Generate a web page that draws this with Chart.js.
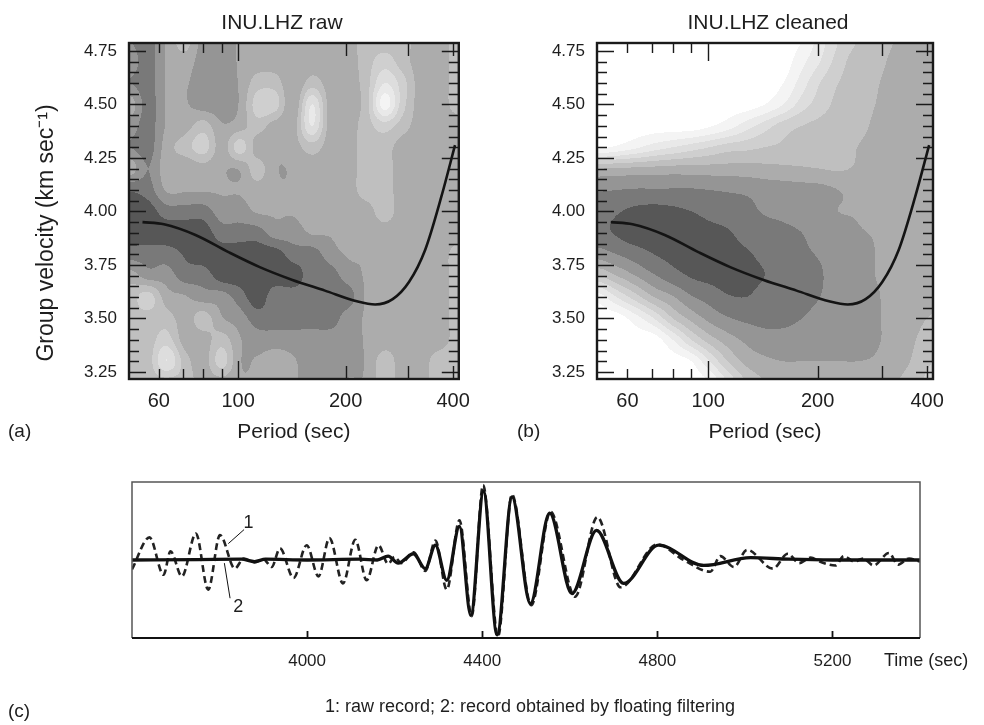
<!DOCTYPE html>
<html>
<head>
<meta charset="utf-8">
<script src="https://cdn.jsdelivr.net/npm/chart.js@4.4.1/dist/chart.umd.min.js"></script>
<style>
  body { margin: 0; background: #fff; width: 984px; height: 725px; overflow: hidden; position: relative; }
  .panel { position: absolute; }
</style>
</head>
<body>
<div class="panel" style="left:0;top:0;width:480px;height:450px"><canvas id="chartRaw"></canvas></div>
<div class="panel" style="left:480px;top:0;width:504px;height:450px"><canvas id="chartClean"></canvas></div>
<div class="panel" style="left:0;top:450px;width:984px;height:275px"><canvas id="chartWave"></canvas></div>
<script>
// ---- axis ticks ----
const periodLabels = [60, 100, 200, 400];
const velocityLabels = [3.25, 3.5, 3.75, 4.0, 4.25, 4.5, 4.75];
const timeLabels = [4000, 4400, 4800, 5200];

// ---- dispersion curve (same in both panels) ----
const curvePeriod = [54, 62, 76, 94, 115, 142, 175, 215, 242, 271, 301, 334, 371, 405];
const curveVelocity = [3.95, 3.94, 3.89, 3.81, 3.74, 3.68, 3.63, 3.58, 3.565, 3.59, 3.67, 3.82, 4.07, 4.31];

// ---- contour grid (level 0 = darkest, 9 = white) ----
const gridPeriods = [50, 56, 63, 71, 80, 90, 101, 113, 127, 143, 161, 181, 203, 228, 257, 288, 324, 365, 416];
const gridVelocities = [4.8, 4.7, 4.6, 4.5, 4.4, 4.3, 4.2, 4.1, 4.0, 3.9, 3.8, 3.7, 3.6, 3.5, 3.4, 3.3, 3.2];

const rawLevels = [
  [1.5, 1, 2.6, 4, 2, 2, 2.6, 3, 3, 2.6, 3, 3, 3, 4, 4, 4, 3, 3, 4],
  [2, 1, 2.6, 3, 2, 2, 2.6, 3, 3, 2.6, 3, 3, 3, 4, 5, 4, 3, 3, 4],
  [1.5, 1, 2.6, 2.6, 2, 2, 2.6, 4, 4, 2.6, 4, 3, 3, 4, 6.5, 5, 3, 3, 4],
  [3, 1, 2.6, 2.6, 2, 2, 2.6, 5, 5, 2.6, 6.5, 3, 3, 4, 8, 5, 3, 3, 4],
  [2, 1, 2.6, 3, 4, 2.6, 3, 4, 3, 3, 6.5, 3, 3, 4, 5, 4, 3, 3, 3],
  [1.5, 1, 3, 4, 5, 3, 5, 3, 2.6, 3, 4, 3, 3, 4, 4, 3, 3, 3, 3],
  [3, 1.5, 3, 2.6, 3, 2.6, 2.6, 4, 2.6, 2.6, 3, 3, 3, 4, 4, 3, 3, 3, 3],
  [0.6, 1, 2.6, 2.6, 2.6, 2.6, 2.6, 3, 2.6, 2.6, 3, 3, 3, 4, 4, 3, 3, 3, 3],
  [0, 0, 1, 1, 1, 2, 2, 2.6, 2.6, 2.6, 3, 3, 3, 3, 4, 3, 3, 3, 3],
  [0, 0, 0, 0, 0, 1, 1, 1, 2, 2, 2.6, 2.6, 3, 3, 3, 3, 3, 3, 3],
  [1, 1, 1, 0.4, 0, 0, 0, 0, 0, 1, 1, 2, 2.6, 2.6, 3, 3, 3, 3, 4],
  [3, 2, 2, 1, 1, 0, 0, 0, 0, 0, 1, 1, 2, 2.6, 3, 3, 3, 3, 4],
  [4, 5, 3, 2.6, 2, 2, 1, 0, 1, 1, 1, 1, 1, 2.6, 3, 3, 3, 3, 4],
  [4, 4, 4, 3, 4, 2.6, 2, 1, 1, 1, 1, 1, 2, 2.6, 3, 3, 3, 3, 4],
  [4, 4, 5, 3, 3, 4, 2.6, 2, 2, 2, 2, 2, 2, 2.6, 3, 3, 3, 3, 4],
  [4, 4, 6.5, 4, 3, 5, 2.6, 2.6, 3, 2.6, 2, 2, 2, 2.6, 4, 3, 3, 4, 4],
  [4, 4, 4, 4, 3, 3, 2.6, 2.6, 2.6, 2.6, 2, 2, 2.6, 2.6, 4, 3, 3, 4, 4]
];

const cleanLevels = [
  [9, 9, 9, 9, 9, 9, 9, 9, 9, 9, 9, 8.5, 7, 5.5, 4.5, 4, 3.5, 3, 3],
  [9, 9, 9, 9, 9, 9, 9, 9, 9, 9, 9, 7.8, 6.5, 5, 4, 3.8, 3.3, 3, 3],
  [9, 9, 9, 9, 9, 9, 9, 9, 9, 9, 8.5, 7, 5.5, 4.5, 4, 3.6, 3.2, 3, 3],
  [9, 9, 9, 9, 9, 9, 9, 9, 9, 8.5, 7.5, 6, 5, 4.2, 3.8, 3.5, 3.2, 3, 3],
  [9, 9, 9, 9, 9, 9, 8.6, 8, 7, 6, 5, 4.5, 4.2, 4, 3.7, 3.4, 3.2, 3, 3],
  [8.7, 8.3, 7.7, 7, 6.5, 6, 5.5, 5, 4.8, 4.5, 4.3, 4.1, 4, 3.8, 3.5, 3.3, 3.1, 3, 3],
  [3.5, 3.4, 3.3, 3.2, 3.1, 3.1, 3.1, 3.1, 3.1, 3.2, 3.3, 3.4, 3.5, 3.6, 3.4, 3.2, 3.1, 3, 3],
  [1.6, 1.5, 1.4, 1.4, 1.4, 1.4, 1.5, 1.6, 1.7, 1.9, 2, 2.1, 2.2, 2.5, 2.8, 3, 3, 3, 3],
  [1, 0.6, 0.3, 0.2, 0.3, 0.5, 0.8, 1, 1.2, 1.6, 1.8, 2.1, 2.3, 2.5, 2.6, 3, 3, 3, 3],
  [0.8, 0.4, 0, 0, 0, 0, 0.2, 0.4, 0.8, 1, 1.2, 1.5, 2, 2.2, 2.4, 2.6, 3, 3, 3],
  [2, 1.5, 1, 0.5, 0.2, 0, 0, 0.2, 0.4, 0.7, 1, 1.3, 1.6, 2, 2.2, 2.5, 3, 3, 3],
  [4.5, 3.5, 2.5, 1.6, 0.9, 0.4, 0.2, 0.1, 0.3, 0.5, 0.9, 1.1, 1.4, 2, 2.2, 2.5, 2.8, 3, 3],
  [8, 6.5, 5, 3.5, 2.6, 1.6, 1.1, 0.6, 0.5, 0.8, 1, 1.2, 1.5, 2, 2.2, 2.4, 2.8, 3, 3.2],
  [9, 9, 8, 6.5, 4.5, 3.2, 2.2, 1.6, 1.3, 1.2, 1.3, 1.5, 1.8, 2, 2.2, 2.4, 2.8, 3.2, 3.6],
  [9, 9, 9, 9, 7.5, 5.5, 4, 3, 2.3, 1.9, 1.8, 1.9, 2, 2.1, 2.2, 2.4, 2.8, 3.4, 4],
  [9, 9, 9, 9, 9, 8.5, 6.5, 4.5, 3.2, 2.7, 2.5, 2.5, 2.5, 2.5, 2.5, 2.6, 3, 3.6, 4.5],
  [9, 9, 9, 9, 9, 9, 8.5, 6.5, 4.5, 3.5, 3.1, 3, 3, 3, 3, 3.1, 3.4, 4, 5]
];

// ---- waveforms (c) ----
const rawTime = [3600, 3640, 3672, 3688, 3714, 3746, 3774, 3801, 3835, 3855, 3880, 3900, 3919, 3938, 3969, 3999, 4026, 4051, 4082, 4110, 4136, 4163, 4185, 4200, 4215, 4243, 4270, 4293, 4319, 4348, 4376, 4402, 4436, 4468, 4512, 4556, 4612, 4663, 4716, 4800, 4860, 4921, 4944, 4975, 5005, 5064, 5098, 5124, 5150, 5175, 5207, 5226, 5250, 5270, 5294, 5329, 5350, 5375, 5400];
const rawAmp = [-0.12, 0.29, -0.19, 0.11, -0.21, 0.34, -0.38, 0.32, -0.11, 0.02, -0.03, 0.01, -0.09, 0.15, -0.23, 0.19, -0.21, 0.28, -0.30, 0.26, -0.26, 0.19, -0.05, 0.04, -0.04, 0.10, -0.14, 0.25, -0.38, 0.51, -0.72, 0.96, -0.98, 0.84, -0.58, 0.62, -0.47, 0.55, -0.35, 0.20, 0.00, -0.15, 0.05, -0.09, 0.13, -0.11, 0.08, -0.04, 0.03, -0.03, -0.07, 0.05, -0.02, 0.02, -0.07, 0.09, -0.06, 0.02, -0.02];
const filteredTime = [3600, 3750, 3850, 3880, 3905, 4000, 4120, 4160, 4185, 4208, 4243, 4270, 4293, 4319, 4348, 4374, 4403, 4434, 4468, 4510, 4554, 4605, 4661, 4723, 4803, 4906, 5013, 5100, 5200, 5300, 5400];
const filteredAmp = [0, 0.005, 0.01, -0.02, 0.01, 0, 0.01, 0, 0.05, -0.04, 0.08, -0.11, 0.19, -0.26, 0.43, -0.71, 0.88, -0.96, 0.81, -0.56, 0.60, -0.43, 0.38, -0.30, 0.19, -0.07, 0.03, 0.01, 0, 0, 0];

// labels "1" and "2" with their leader lines
const noteText = ["1", "2"];
const noteAt = [[3866, 0.47], [3843, -0.6]];
const leaderFrom = [[3856, 0.39], [3824, -0.49]];
const leaderTo = [[3820, 0.21], [3811, -0.04]];

const FONT = "'Liberation Sans', Arial, sans-serif";
const GRAYS = [0x57, 0x79, 0x95, 0xac, 0xbf, 0xcf, 0xdd, 0xe9, 0xf4, 0xff];

// Catmull-Rom weights for a fraction t
function crWeights(t) {
  const t2 = t * t, t3 = t2 * t;
  return [0.5 * (-t + 2 * t2 - t3), 0.5 * (2 - 5 * t2 + 3 * t3), 0.5 * (t + 4 * t2 - 3 * t3), 0.5 * (-t2 + t3)];
}

function contourPlugin(field) {
  return {
    id: "contour",
    beforeDatasetsDraw(chart) {
      const { ctx, chartArea: a, scales } = chart;
      const w = Math.ceil(a.width), h = Math.ceil(a.height);
      const off = document.createElement("canvas");
      off.width = w;
      off.height = h;
      const octx = off.getContext("2d");
      const img = octx.createImageData(w, h);
      const nC = gridPeriods.length, nR = gridVelocities.length;
      const lp = gridPeriods.map(p => Math.log(p));
      const cols = [];
      for (let i = 0; i < w; i++) {
        const p = Math.log(scales.x.getValueForPixel(a.left + i + 0.5));
        let c = 0;
        while (c < nC - 2 && p > lp[c + 1]) c++;
        const f = Math.min(1, Math.max(0, (p - lp[c]) / (lp[c + 1] - lp[c])));
        const idx = [c - 1, c, c + 1, c + 2].map(k => Math.max(0, Math.min(nC - 1, k)));
        cols.push({ idx, wt: crWeights(f) });
      }
      const gv = gridVelocities;
      for (let j = 0; j < h; j++) {
        const v = scales.y.getValueForPixel(a.top + j + 0.5);
        let r = 0;
        while (r < nR - 2 && v < gv[r + 1]) r++;
        const fv = Math.min(1, Math.max(0, (gv[r] - v) / (gv[r] - gv[r + 1])));
        const ridx = [r - 1, r, r + 1, r + 2].map(k => Math.max(0, Math.min(nR - 1, k)));
        const rw = crWeights(fv);
        for (let i = 0; i < w; i++) {
          const cc = cols[i];
          let val = 0;
          for (let m = 0; m < 4; m++) {
            const row = field[ridx[m]];
            const s = cc.wt[0] * row[cc.idx[0]] + cc.wt[1] * row[cc.idx[1]] + cc.wt[2] * row[cc.idx[2]] + cc.wt[3] * row[cc.idx[3]];
            val += rw[m] * s;
          }
          const g = GRAYS[Math.max(0, Math.min(GRAYS.length - 1, Math.round(val)))];
          const k = (j * w + i) * 4;
          img.data[k] = g;
          img.data[k + 1] = g;
          img.data[k + 2] = g;
          img.data[k + 3] = 255;
        }
      }
      octx.putImageData(img, 0, 0);
      ctx.drawImage(off, a.left, a.top, w, h);
    }
  };
}

// inward ticks on all four sides plus the frame
const frameTicks = {
  id: "frameTicks",
  afterDatasetsDraw(chart) {
    const { ctx, chartArea: a, scales: { x, y } } = chart;
    ctx.save();
    ctx.strokeStyle = "#1a1a1a";
    ctx.lineWidth = 1.4;
    ctx.beginPath();
    [60, 70, 80, 90, 100, 200, 300, 400].forEach(p => {
      const px = Math.round(x.getPixelForValue(p)) + 0.5;
      const len = p === 100 ? 18 : (p >= 200 ? 13 : 10);
      ctx.moveTo(px, a.top); ctx.lineTo(px, a.top + len);
      ctx.moveTo(px, a.bottom); ctx.lineTo(px, a.bottom - len);
    });
    for (let k = 0; k <= 30; k++) {
      const py = Math.round(y.getPixelForValue(3.25 + k * 0.05)) + 0.5;
      const len = k % 5 === 0 ? 17 : 10;
      ctx.moveTo(a.left, py); ctx.lineTo(a.left + len, py);
      ctx.moveTo(a.right, py); ctx.lineTo(a.right - len, py);
    }
    ctx.stroke();
    ctx.lineWidth = 2.4;
    ctx.strokeRect(a.left, a.top, a.right - a.left, a.bottom - a.top);
    ctx.restore();
  }
};

const textLayer = {
  id: "textLayer",
  afterDraw(chart, args, opts) {
    const ctx = chart.ctx;
    (opts.items || []).forEach(it => {
      ctx.save();
      ctx.fillStyle = "#1e1e1e";
      ctx.textBaseline = "middle";
      ctx.font = it.size + "px " + FONT;
      ctx.textAlign = it.align || "center";
      ctx.translate(it.x, it.y);
      if (it.rotate) ctx.rotate(it.rotate * Math.PI / 180);
      ctx.fillText(it.text, 0, 0);
      ctx.restore();
    });
  }
};

function contourConfig(field, padRight, yWidth, texts) {
  return {
    type: "line",
    data: {
      datasets: [{
        data: curvePeriod.map((p, i) => ({ x: p, y: curveVelocity[i] })),
        borderColor: "#141414",
        borderWidth: 2.6,
        pointRadius: 0,
        cubicInterpolationMode: "monotone",
        fill: false
      }]
    },
    options: {
      responsive: true,
      maintainAspectRatio: false,
      animation: false,
      layout: { padding: { top: 43, right: padRight, left: 0, bottom: 0 } },
      plugins: {
        legend: { display: false },
        tooltip: { enabled: false },
        textLayer: { items: texts }
      },
      scales: {
        x: {
          type: "logarithmic",
          min: 49.5,
          max: 415,
          grid: { display: false, drawTicks: false },
          border: { display: false },
          afterBuildTicks: s => { s.ticks = periodLabels.map(v => ({ value: v })); },
          afterFit: s => { s.height = 71; },
          ticks: {
            autoSkip: false, maxRotation: 0, padding: 10, color: "#1e1e1e",
            font: { family: FONT, size: 20 },
            callback: v => String(v)
          },
          title: {
            display: true, text: "Period (sec)", color: "#1e1e1e",
            font: { family: FONT, size: 21 }, padding: { top: 0, bottom: 5 }
          }
        },
        y: {
          min: 3.217,
          max: 4.787,
          grid: { display: false, drawTicks: false },
          border: { display: false },
          afterBuildTicks: s => { s.ticks = velocityLabels.map(v => ({ value: v })); },
          afterFit: s => { s.width = yWidth; },
          ticks: {
            autoSkip: false, padding: 12, color: "#1e1e1e",
            font: { family: FONT, size: 17 },
            callback: v => Number(v).toFixed(2)
          }
        }
      }
    },
    plugins: [contourPlugin(field), frameTicks, textLayer]
  };
}

new Chart(document.getElementById("chartRaw"), contourConfig(
  rawLevels, 13, 129,
  [
    { text: "INU.LHZ raw", x: 282, y: 23, size: 21 },
    { text: "Group velocity (km sec\u207B\u00B9)", x: 47, y: 233, size: 23, rotate: -90 },
    { text: "(a)", x: 8, y: 432, size: 19, align: "left" }
  ]
));

new Chart(document.getElementById("chartClean"), contourConfig(
  cleanLevels, 51, 117,
  [
    { text: "INU.LHZ cleaned", x: 288, y: 23, size: 21 },
    { text: "(b)", x: 37, y: 432, size: 19, align: "left" }
  ]
));

// waveform panel
const waveFrame = {
  id: "waveFrame",
  afterDatasetsDraw(chart) {
    const { ctx, chartArea: a, scales: { x, y } } = chart;
    ctx.save();
    ctx.strokeStyle = "#555";
    ctx.lineWidth = 1.5;
    ctx.beginPath();
    ctx.moveTo(a.left, a.bottom); ctx.lineTo(a.left, a.top); ctx.lineTo(a.right, a.top); ctx.lineTo(a.right, a.bottom);
    ctx.stroke();
    ctx.strokeStyle = "#111";
    ctx.lineWidth = 1.8;
    ctx.beginPath();
    ctx.moveTo(a.left, a.bottom); ctx.lineTo(a.right, a.bottom);
    timeLabels.forEach(t => {
      const px = Math.round(x.getPixelForValue(t)) + 0.5;
      ctx.moveTo(px, a.bottom); ctx.lineTo(px, a.bottom - 7);
    });
    ctx.stroke();
    // leader lines and labels for the two records
    ctx.lineWidth = 1;
    ctx.beginPath();
    leaderFrom.forEach((f, i) => {
      ctx.moveTo(x.getPixelForValue(f[0]), y.getPixelForValue(f[1]));
      ctx.lineTo(x.getPixelForValue(leaderTo[i][0]), y.getPixelForValue(leaderTo[i][1]));
    });
    ctx.stroke();
    ctx.fillStyle = "#1e1e1e";
    ctx.font = "18px " + FONT;
    ctx.textAlign = "center";
    ctx.textBaseline = "middle";
    noteText.forEach((t, i) => {
      ctx.fillText(t, x.getPixelForValue(noteAt[i][0]), y.getPixelForValue(noteAt[i][1]));
    });
    ctx.restore();
  }
};

new Chart(document.getElementById("chartWave"), {
  type: "line",
  data: {
    datasets: [
      {
        label: "2",
        data: filteredTime.map((t, i) => ({ x: t, y: filteredAmp[i] })),
        borderColor: "#111",
        borderWidth: 3.3,
        pointRadius: 0,
        cubicInterpolationMode: "monotone",
        order: 0
      },
      {
        label: "1",
        data: rawTime.map((t, i) => ({ x: t, y: rawAmp[i] })),
        borderColor: "#222",
        borderWidth: 2.6,
        borderDash: [7, 4],
        pointRadius: 0,
        cubicInterpolationMode: "monotone",
        order: 1
      }
    ]
  },
  options: {
    responsive: true,
    maintainAspectRatio: false,
    animation: false,
    layout: { padding: { top: 32, right: 64, left: 132, bottom: 0 } },
    plugins: {
      legend: { display: false },
      tooltip: { enabled: false },
      textLayer: {
        items: [
          { text: "Time (sec)", x: 884, y: 211, size: 18, align: "left" },
          { text: "1: raw record; 2: record obtained by floating filtering", x: 530, y: 257, size: 18 },
          { text: "(c)", x: 8, y: 262, size: 19, align: "left" }
        ]
      }
    },
    scales: {
      x: {
        type: "linear",
        min: 3600,
        max: 5400,
        grid: { display: false, drawTicks: false },
        border: { display: false },
        afterBuildTicks: s => { s.ticks = timeLabels.map(v => ({ value: v })); },
        afterFit: s => { s.height = 87; },
        ticks: {
          autoSkip: false, maxRotation: 0, padding: 13, color: "#1e1e1e",
          font: { family: FONT, size: 17 },
          callback: v => String(v)
        }
      },
      y: { display: false, min: -1, max: 1 }
    }
  },
  plugins: [waveFrame, textLayer]
});
</script>
</body>
</html>
